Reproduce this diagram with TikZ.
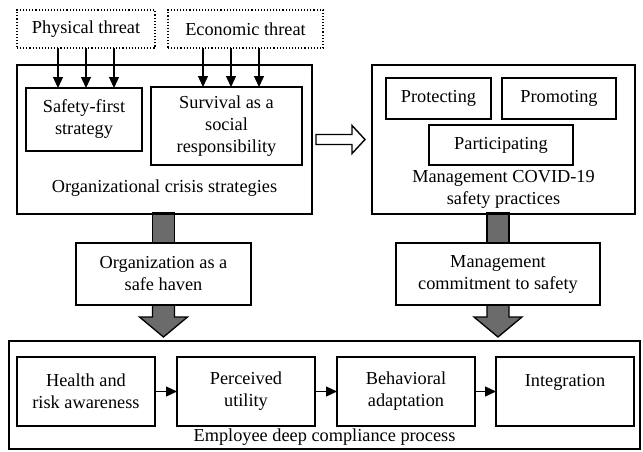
\documentclass[tikz,border=0pt]{standalone}
\usepackage{fontspec}
\setmainfont{Liberation Serif}
\usetikzlibrary{arrows.meta}
\pgfdeclarelayer{background}
\pgfsetlayers{background,main}
\definecolor{shaftgray}{HTML}{6B6B6B}
\begin{document}
\begin{tikzpicture}[x=1pt,y=-1pt,
  font=\fontsize{18.3}{22}\selectfont,
  every node/.style={inner sep=0pt,outer sep=0pt,align=center},
  threatbox/.style={draw,dotted,line width=1.1pt},
  bigbox/.style={draw,line width=2pt},
  smallbox/.style={draw,line width=1.4pt,fill=white},
  thinarrow/.style={line width=1.3pt,-{Triangle[length=11pt,width=10pt]}},
  hollowarrow/.style={draw,line width=1.4pt,fill=white,line join=miter},
  blockarrow/.style={draw,line width=1.3pt,fill=shaftgray,line join=miter}]
\useasboundingbox (0,0) rectangle (643,451);

% top threats
\node[threatbox,minimum width=138,minimum height=38] (phys) at (86,29) {Physical threat};
\node[threatbox,minimum width=155,minimum height=38] (econ) at (245.5,29) {Economic threat};

% left big box
\node[bigbox,minimum width=295,minimum height=149] (ocs) at (164.5,139.5) {};
\node[smallbox,minimum width=116,minimum height=63] (safety) at (84,119.5) {Safety-first\\strategy};
\node[smallbox,minimum width=151,minimum height=78] (survival) at (226.5,126) {Survival as a\\social\\responsibility};
\node (ocslabel) at (164.5,188) {Organizational crisis strategies};

% right big box
\node[bigbox,minimum width=263,minimum height=149] (mcsp) at (503.5,139.5) {};
\node[smallbox,minimum width=105,minimum height=41] (protect) at (438.5,98.5) {Protecting};
\node[smallbox,minimum width=114,minimum height=41] (promote) at (559,98.5) {Promoting};
\node[smallbox,minimum width=144,minimum height=40] (partic) at (501,145) {Participating};
\node (mcsplabel) at (503.5,189) {Management COVID-19\\safety practices};

% middle boxes
\node[smallbox,minimum width=175,minimum height=62] (haven) at (163.5,274) {Organization as a\\safe haven};
\node[smallbox,minimum width=204,minimum height=62] (commit) at (498,274) {Management\\commitment to safety};

% bottom big box
\node[bigbox,minimum width=631,minimum height=108] (edcp) at (324.5,395) {};
\node[smallbox,minimum width=138,minimum height=69] (health) at (86,391.5) {Health and\\risk awareness};
\node[smallbox,minimum width=138,minimum height=69] (perc) at (246,391.5) {Perceived\\utility};
\node[smallbox,minimum width=138,minimum height=69] (behav) at (406,391.5) {Behavioral\\adaptation};
\node[smallbox,minimum width=138,minimum height=69] (integ) at (565,391.5) {Integration\\\mbox{}};
\node (edcplabel) at (324.5,437) {Employee deep compliance process};

% threat arrows
\foreach \dx [count=\i] in {-28,0,28} {
  \coordinate (p\i) at ([xshift=\dx pt]phys.south);
  \draw[thinarrow] (p\i) -- (p\i |- safety.north);
}
\foreach \dx [count=\i] in {-42.5,-14.5,13.5} {
  \coordinate (e\i) at ([xshift=\dx pt]econ.south);
  \draw[thinarrow] (e\i) -- (e\i |- survival.north);
}

% process arrows
\draw[thinarrow] (health) -- (perc);
\draw[thinarrow] (perc) -- (behav);
\draw[thinarrow] (behav) -- (integ);

% hollow arrow
\coordinate (ha) at ([xshift=4pt]ocs.east);
\coordinate (hb) at ([xshift=-7pt]mcsp.west);
\draw[hollowarrow] (ha) ++(0,-5) -- ++(36,0) -- ++(0,-9) -- (hb) -- ++(-13,14) -- ++(0,-9) -- ++(-36,0) -- cycle;

% gray block arrows
\begin{pgfonlayer}{background}
\draw[blockarrow] (haven.north) ++(-11,0) -- ++(0,-30) -- ++(22,0) -- ++(0,30) -- cycle;
\draw[blockarrow] (commit.north) ++(-11,0) -- ++(0,-30) -- ++(22,0) -- ++(0,30) -- cycle;
\path (haven.south |- edcp.north) ++(0,-4) coordinate (lt);
\path (commit.south |- edcp.north) ++(0,-4) coordinate (rt);
\draw[blockarrow] (haven.south) ++(-11,0) -- ++(0,12) -- ++(-13,0) -- (lt) -- ++(24,-20) -- ++(-13,0) -- ++(0,-12) -- cycle;
\draw[blockarrow] (commit.south) ++(-11,0) -- ++(0,12) -- ++(-13,0) -- (rt) -- ++(24,-20) -- ++(-13,0) -- ++(0,-12) -- cycle;
\end{pgfonlayer}
\end{tikzpicture}
\end{document}
